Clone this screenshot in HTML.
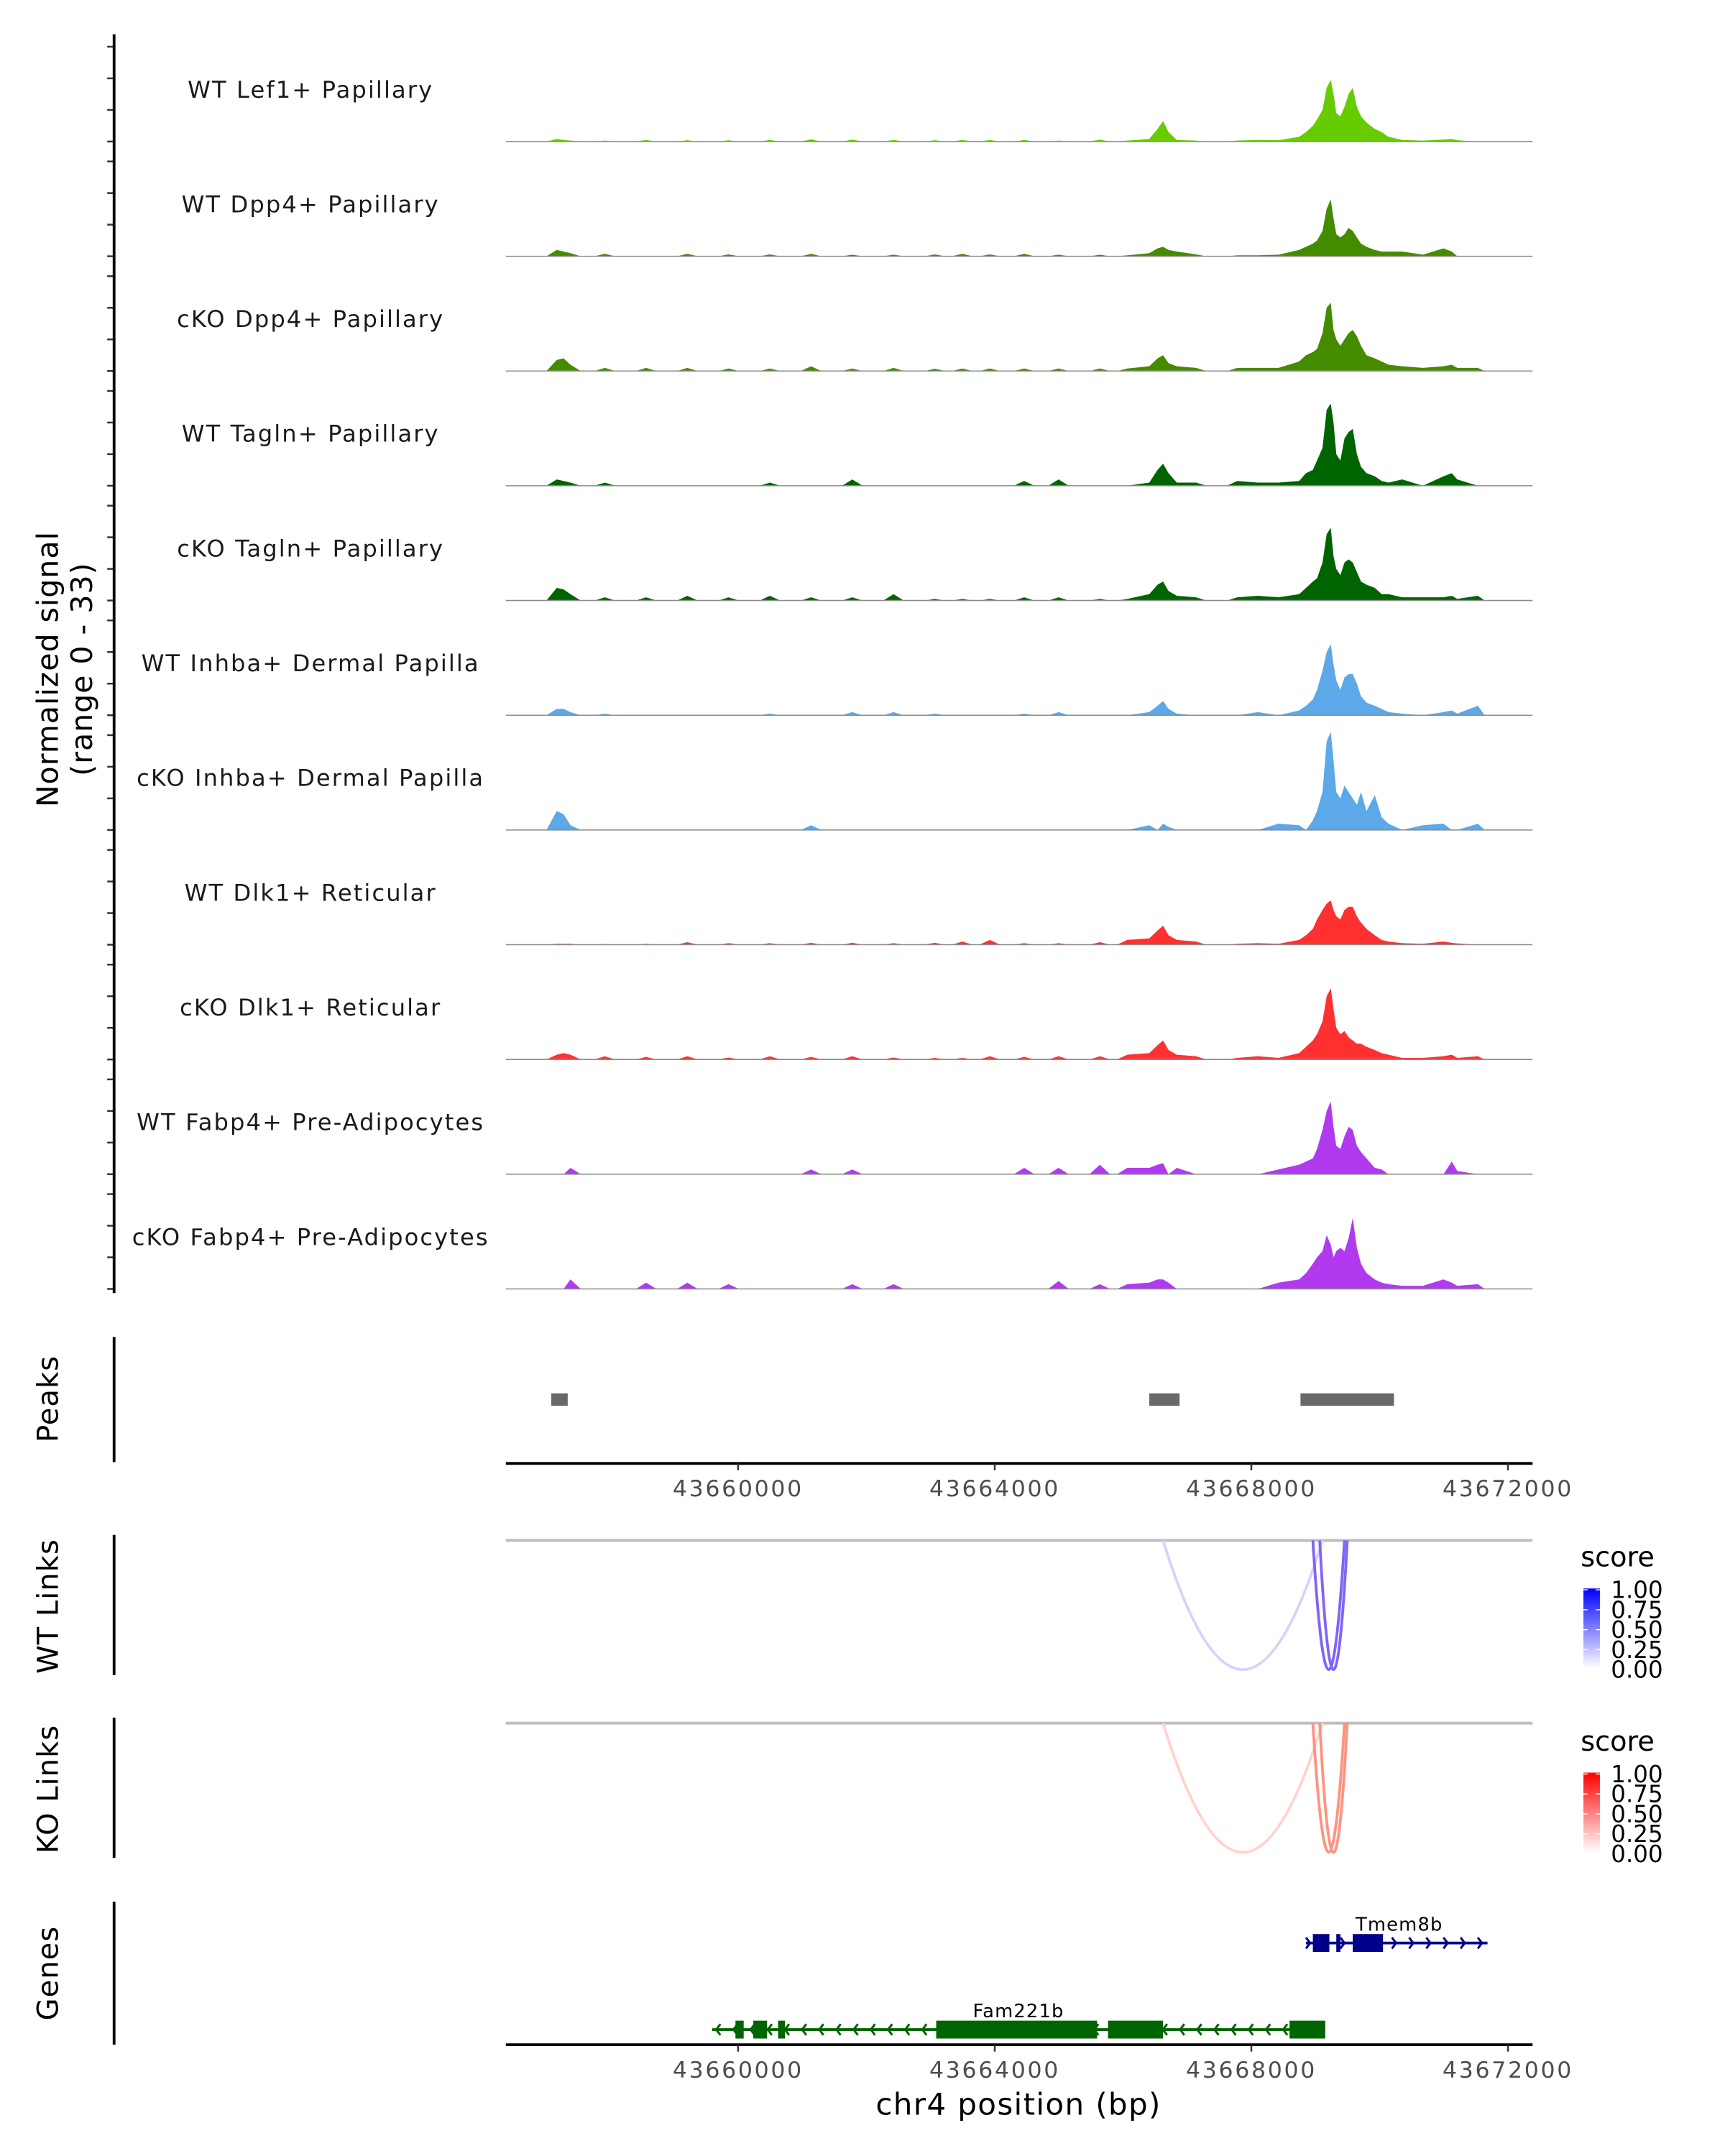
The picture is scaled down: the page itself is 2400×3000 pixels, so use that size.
<!DOCTYPE html>
<html><head><meta charset="utf-8"><style>
html,body{margin:0;padding:0;background:#fff;}
svg{display:block;}
text{font-family:"DejaVu Sans","Liberation Sans",sans-serif;}
</style></head><body>
<svg id="chart" width="2400" height="3000" viewBox="0 0 1255 1569" preserveAspectRatio="none" xmlns="http://www.w3.org/2000/svg">
<defs>
<linearGradient id="gblue" x1="0" y1="1" x2="0" y2="0"><stop offset="0" stop-color="#ffffff"/><stop offset="1" stop-color="#0000ff"/></linearGradient>
<linearGradient id="gred" x1="0" y1="1" x2="0" y2="0"><stop offset="0" stop-color="#ffffff"/><stop offset="1" stop-color="#ff0000"/></linearGradient>
</defs>
<g id="tracks"></g>
<g id="yaxis"></g>
<text transform="translate(42,487) rotate(-90)" font-size="21.5" text-anchor="middle" letter-spacing="0.5">Normalized signal</text>
<text transform="translate(67,487) rotate(-90)" font-size="21.5" text-anchor="middle" letter-spacing="0.5">(range 0 - 33)</text>
<g id="peaks"></g>
<g id="links"></g>
<g id="genes"></g>
</svg>
<script>
// ---- data ----
const positions = [43657173,43657280,43657387,43657923,43658566,43659209,43659852,43660495,43661137,43661780,43662423,43663066,43663495,43663923,43664459,43664995,43665638,43666066,43666409,43666538,43666624,43666709,43666838,43667138,43667781,43668102,43668424,43668745,43668852,43668959,43669024,43669109,43669174,43669238,43669281,43669324,43669388,43669452,43669516,43669581,43669645,43669709,43669795,43669924,43670031,43670138,43670352,43670674,43670995,43671124,43671210,43671531,43671638];
const trackNames = ["WT Lef1+ Papillary","WT Dpp4+ Papillary","cKO Dpp4+ Papillary","WT Tagln+ Papillary","cKO Tagln+ Papillary","WT Inhba+ Dermal Papilla","cKO Inhba+ Dermal Papilla","WT Dlk1+ Reticular","cKO Dlk1+ Reticular","WT Fabp4+ Pre-Adipocytes","cKO Fabp4+ Pre-Adipocytes"];
const trackColors = ["#66cc00","#458b00","#458b00","#006400","#006400","#5ca8e8","#5ca8e8","#ff3030","#ff3030","#b23aee","#b23aee"];
const sigLef1WT = [0.8,0.5,0.3,0.3,0.5,0.4,0.4,0.5,0.7,0.6,0.5,0.4,0.5,0.5,0.5,0.3,0.6,0.3,0.8,4,6.5,3,0.5,0.3,0.3,0.5,0.4,1.5,3,5,7,10,17,19.5,15,9,8,11,15,17,11,8,6,4,3,1.5,0.5,0.3,0.6,0.8,0.4,0,0];
const sigDpp4WT = [2,1.5,1,0.8,0,0.8,0.6,0.6,0.8,0.5,0.5,0.6,0.8,0.6,0.8,0.5,0.5,0.3,1,2.5,3,2,1.5,0.6,0.3,0.3,0.5,2,3,4,5,8,15,18,12,7,6,7,9,8,6,4,3,2,1.5,1.5,1.5,0.5,2.5,1.5,0,0,0];
const sigDpp4KO = [3.5,4,2,1,1,1,0.8,0.8,1.5,0.8,1,0.7,0.8,0.8,0.8,0.8,0.8,0.8,1.5,4,5,2.5,1.5,1,1,1,1,3,5,6,7,12,20,21.6,13,10,8,10,12,13,11,8,5,4,3,2,1.5,1,1.5,2,1,1,0];
const sigTaglnWT = [2,1.5,1,1,0,0,0,1,0,2,0,0,0,0,1.5,2,0,0,1,5,7,4,1,1,1.5,1,1,1.5,4,5,8,12,24,26,20,10,8,15,17,18,10,6,4,3,1.5,1,2,0,3,4,2,0,0];
const sigTaglnKO = [4,3.5,2,1,1,1.5,1,1.5,1,1,2,0.5,0.5,0.5,1,1,0.5,0.5,2,5,6,3,1.5,1,1,1.5,1,2,4,6,7,12,21,23,14,10,8,12,13,12,9,6,5,4,2,2,1,1,1,1.5,0.5,1.5,0];
const sigInhbaWT = [2,2,1,0.5,0,0,0,0.5,0,1,1,0.5,0,0,0.5,1,0,0,1,3,4.5,2,0.5,0,0,1,0,1.5,3,5,8,14,20,22.5,16,11,8,12,13,13,10,6,4,3,2,1,0.5,0,1,1.5,0.5,3,0];
const sigInhbaKO = [6,5,1.5,0,0,0,0,0,1.5,0,0,0,0,0,0,0,0,0,1.5,0,2,1,0,0,0,0,2,1.5,0,3,6,12,28,31,22,12,10,14,12,10,8,12,6,11,4,2,0,1.5,2,0,0,2,0];
const sigDlk1WT = [0.3,0.3,0.3,0.2,0.3,0.8,0.5,0.5,0.6,0.6,0.5,0.6,1,1.5,0.5,0.5,0.8,1.5,2,4.5,6,3,1.5,1,0.3,0.5,0.3,1.5,3,5,8,11,13,14,11,9,8,11,12,12,9,7,5,3,1.5,1,0.5,0.3,1,0.6,0.4,0,0];
const sigDlk1KO = [1.5,2,1.5,1,0.8,1,0.6,1,0.8,1,0.6,0.5,0.5,1,0.8,1,1,1.5,2,4.5,6,3,1.5,1,0.5,1,0.5,2,4,6,8,12,20,22.5,16,10,8,9,7,6,5,5,4,3,2,1.5,0.5,0.5,1,1.5,0.5,1,0];
const sigFabp4WT = [0,0,2,0,0,0,0,0,1.5,1.5,0,0,0,0,2,2,3,2,2,3,3.5,0,2,0,0,0,1.5,3,4,5,8,14,20,23,15,9,8,12,15,14,9,7,5,2,1.5,0,0,0,0,4,1,0,0];
const sigFabp4KO = [0,0,3,0,2,2,1.5,0,0,1.5,1.5,0,0,0,0,2.5,1.5,1.5,2,3,3,2,0,0,0,0,2,3,5,8,10,12,17,14,10,12,13,12,16,22.5,13,8,5,3,2,1.5,1,1,3,2,1,1.5,0];
const trackValues = [sigLef1WT,sigDpp4WT,sigDpp4KO,sigTaglnWT,sigTaglnKO,sigInhbaWT,sigInhbaKO,sigDlk1WT,sigDlk1KO,sigFabp4WT,sigFabp4KO];
const yTicks = [0,10,20,30];
const xTicks = [43660000,43664000,43668000,43672000];
const xTickLabels = ["43660000","43664000","43668000","43672000"];
const peakStarts = [43657087,43666409,43668766];
const peakEnds = [43657344,43666881,43670223];
const wtLinkStart = [43666624,43668959,43669066];
const wtLinkEnd = [43669109,43669452,43669495];
const wtLinkScore = [0.22,0.72,0.72];
const koLinkStart = [43666624,43668959,43669066];
const koLinkEnd = [43669109,43669452,43669495];
const koLinkScore = [0.25,0.62,0.62];
const legendLabels = ["1.00","0.75","0.50","0.25","0.00"];
const geneNames = ["Tmem8b","Fam221b"];
const geneStart = [43668852,43659595];
const geneEnd = [43671681,43669152];
const geneStrand = ["+","-"];
const geneExonStarts = [[43668959,43669324,43669581],[43659959,43660237,43660623,43663088,43665766,43668595]];
const geneExonEnds = [[43669216,43669388,43670052],[43660087,43660452,43660730,43665595,43666624,43669152]];

// ---- scales ----
const X0 = 368, X1 = 1115;
const PXPERBP = 186.7/4000;
function xs(bp){ return 537 + (bp - 43660000) * PXPERBP; }
const UNIT = 2.3;
const HALF = 160; // bp half-width of an isolated bump
const NS = "http://www.w3.org/2000/svg";
function mk(tag, attrs, parent){ const e=document.createElementNS(NS,tag); for(const k in attrs) e.setAttribute(k,attrs[k]); parent.appendChild(e); return e; }

// ---- tracks ----
const tracksG = document.getElementById('tracks');
const yaxisG = document.getElementById('yaxis');
const base0 = 103, step = 83.5;
trackValues.forEach((vals, i) => {
  const b = base0 + i*step;
  const g = mk('g', {}, tracksG);
  
  
  const Y = v => (b - v*UNIT).toFixed(2);
  let d = 'M' + X0 + ',' + b;
  positions.forEach((p, j) => {
    const prev = j > 0 ? positions[j-1] : -1e12;
    const next = j < positions.length-1 ? positions[j+1] : 1e12;
    if (p - prev > 2*HALF + 50) d += ' L' + xs(p - HALF).toFixed(2) + ',' + b;
    d += ' L' + xs(p).toFixed(2) + ',' + Y(vals[j]);
    if (next - p > 2*HALF + 50) d += ' L' + xs(p + HALF).toFixed(2) + ',' + b;
  });
  d += ' L' + X1 + ',' + b + ' Z';
  const area = mk('path', {d: d, fill: trackColors[i], stroke: 'none'}, g);
  
  
  const bl = mk('line', {x1: X0, x2: X1, y1: b, y2: b, stroke: '#8c8c8c', 'stroke-width': 0.8}, g);
  
  
  const lab = mk('text', {x: 226, y: b - 32, 'font-size': 16.8, 'text-anchor': 'middle', 'letter-spacing': 1.1, fill: '#1a1a1a'}, g);
  lab.textContent = trackNames[i];
  
  
  yTicks.forEach(t => {
    const tk = mk('line', {x1: 78, x2: 83, y1: b - t*UNIT, y2: b - t*UNIT, stroke: '#333', 'stroke-width': 1.3}, yaxisG);
    
    
  });
});
const yl = mk('line', {x1: 83, x2: 83, y1: 25, y2: 941, stroke: '#000', 'stroke-width': 2}, yaxisG);



// ---- helpers for x-axis ----
function xAxis(y, parent, name){
  const g = mk('g', {}, parent);
  
  
  mk('line', {x1: X0, x2: X1, y1: y, y2: y, stroke: '#000', 'stroke-width': 2}, g);
  xTicks.forEach((t, k) => {
    mk('line', {x1: xs(t), x2: xs(t), y1: y, y2: y + 5, stroke: '#333', 'stroke-width': 1.3}, g);
    const tl = mk('text', {x: xs(t), y: y + 24, 'font-size': 16.5, 'text-anchor': 'middle', 'letter-spacing': 1.4, fill: '#4d4d4d'}, g);
    tl.textContent = xTickLabels[k];
    
    
  });
}
function panelAxis(y1, y2, label, cy, parent){
  mk('line', {x1: 83, x2: 83, y1: y1, y2: y2, stroke: '#000', 'stroke-width': 2}, parent);
  const t = mk('text', {transform: 'translate(42,' + cy + ') rotate(-90)', 'font-size': 21, 'text-anchor': 'middle', 'letter-spacing': 0.5}, parent);
  t.textContent = label;
  
  
}

// ---- peaks ----
const peaksG = document.getElementById('peaks');
panelAxis(973, 1064, 'Peaks', 1018, peaksG);
peakStarts.forEach((s, i) => {
  const r = mk('rect', {x: xs(s), y: 1014, width: xs(peakEnds[i]) - xs(s), height: 9, fill: '#696969'}, peaksG);
  
  
});
xAxis(1065, peaksG, 'peaks-x-axis');

// ---- links ----
const linksG = document.getElementById('links');
function mix(c, s){ return 'rgb(' + c.map(v => Math.round(255 + (v - 255) * s)).join(',') + ')'; }
function linkPanel(top, label, starts, ends, scores, rgb, grad, legendY){
  const g = mk('g', {}, linksG);
  
  
  panelAxis(top - 4, top + 98, label, top + 48, g);
  mk('line', {x1: X0, x2: X1, y1: top, y2: top, stroke: '#bebebe', 'stroke-width': 2}, g);
  starts.forEach((s, i) => {
    const a = xs(s), b = xs(ends[i]);
    const p = mk('path', {d: 'M' + a + ',' + top + ' Q' + ((a+b)/2) + ',' + (top + 188) + ' ' + b + ',' + top, fill: 'none', stroke: mix(rgb, scores[i]), 'stroke-width': 2}, g);
    
    
  });
  const lg = mk('g', {}, g);
  
  
  const st = mk('text', {x: 1150, y: legendY, 'font-size': 20, fill: '#000'}, lg);
  st.textContent = 'score';
  mk('rect', {x: 1152, y: legendY + 16, width: 12, height: 58, fill: 'url(#' + grad + ')'}, lg);
  legendLabels.forEach((l, k) => {
    const yy = legendY + 17 + k*14.5;
    mk('line', {x1: 1152, x2: 1155, y1: yy, y2: yy, stroke: '#fff', 'stroke-width': 0.8}, lg);
    mk('line', {x1: 1161, x2: 1164, y1: yy, y2: yy, stroke: '#fff', 'stroke-width': 0.8}, lg);
    const t = mk('text', {x: 1172, y: yy + 6, 'font-size': 17, fill: '#000'}, lg);
    t.textContent = l;
  });
}
linkPanel(1121, 'WT Links', wtLinkStart, wtLinkEnd, wtLinkScore, [80,40,245], 'gblue', 1140);
linkPanel(1254, 'KO Links', koLinkStart, koLinkEnd, koLinkScore, [255,80,50], 'gred', 1274);

// ---- genes ----
const genesG = document.getElementById('genes');
panelAxis(1384, 1488, 'Genes', 1436, genesG);
const geneY = [1414, 1477];
const geneCol = ["#00008b", "#006400"];
geneNames.forEach((n, i) => {
  const g = mk('g', {}, genesG);
  
  
  const y = geneY[i], c = geneCol[i];
  const a = xs(geneStart[i]), b = xs(geneEnd[i]);
  mk('line', {x1: a, x2: b, y1: y, y2: y, stroke: c, 'stroke-width': 2}, g);
  const dir = geneStrand[i] === '+' ? 1 : -1;
  for (let x = a + 3; x <= b - 1; x += 12.5) {
    mk('path', {d: 'M' + (x - 3*dir) + ',' + (y - 4) + ' L' + x + ',' + y + ' L' + (x - 3*dir) + ',' + (y + 4), fill: 'none', stroke: c, 'stroke-width': 1.6}, g);
  }
  geneExonStarts[i].forEach((s, k) => {
    const ex = mk('rect', {x: xs(s), y: y - 6.5, width: Math.max(2, xs(geneExonEnds[i][k]) - xs(s)), height: 13, fill: c}, g);
    
    
  });
  const t = mk('text', {x: i === 0 ? 1018 : 741, y: y - 9, 'font-size': 13.5, 'text-anchor': 'middle', 'letter-spacing': 0.6, fill: '#000'}, g);
  t.textContent = n;
  
  
});
xAxis(1488, genesG, 'genes-x-axis');
const xt = mk('text', {x: 741, y: 1539, 'font-size': 22, 'text-anchor': 'middle', 'letter-spacing': 0.7, fill: '#000'}, genesG);
xt.textContent = 'chr4 position (bp)';


</script>
</body></html>
